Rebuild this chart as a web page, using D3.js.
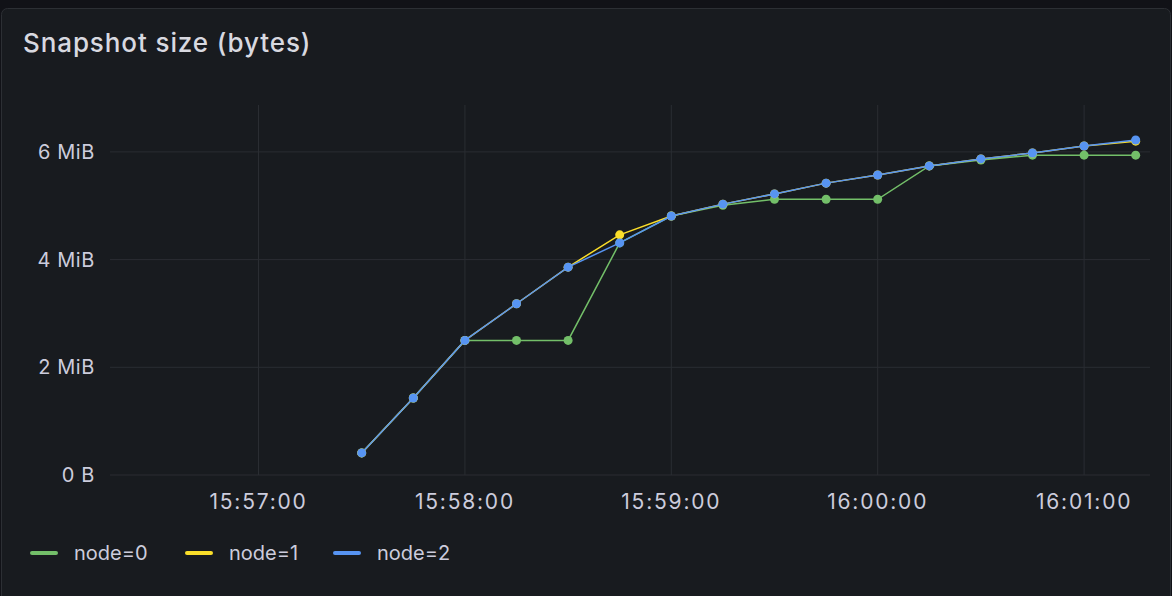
<!DOCTYPE html>
<html><head><meta charset="utf-8">
<script src="https://cdn.jsdelivr.net/npm/d3@7"></script>
<style>
body{margin:0;background:#111217;font-family:Inter,"Noto Sans",sans-serif;}
</style></head><body>
<svg id="chart" width="1172" height="596"></svg>
<script>
// sample times, 15 s apart
const times = ["15:57:30","15:57:45","15:58:00","15:58:15","15:58:30","15:58:45","15:59:00","15:59:15",
               "15:59:30","15:59:45","16:00:00","16:00:15","16:00:30","16:00:45","16:01:00","16:01:15"];
// values in MiB
const node0 = [0.41,1.43,2.5,2.5,2.5,4.31,4.81,5.01,5.12,5.12,5.12,5.74,5.85,5.94,5.94,5.94];
const node1 = [0.41,1.43,2.5,3.18,3.86,4.46,4.81,5.03,5.22,5.42,5.57,5.74,5.87,5.98,6.11,6.20];
const node2 = [0.41,1.43,2.5,3.18,3.86,4.31,4.81,5.03,5.22,5.42,5.57,5.74,5.87,5.98,6.11,6.22];
const yTicks = [0,2,4,6];
const yTickLabels = ["0 B","2 MiB","4 MiB","6 MiB"];
const xTicks = ["15:57:00","15:58:00","15:59:00","16:00:00","16:01:00"];
const series = [
    { name: "node=0", color: "#73bf69", values: node0 },
    { name: "node=1", color: "#fade2a", values: node1 },
    { name: "node=2", color: "#5794f2", values: node2 }
];

const parse = d3.timeParse( "%H:%M:%S" );
const svg   = d3.select( "#chart" );

svg.append( "rect" )
    .attr( "x", 1.5 ).attr( "y", 8.5 ).attr( "width", 1169 ).attr( "height", 600 )
    .attr( "rx", 6 ).attr( "fill", "#181b1f" ).attr( "stroke", "#2c2f34" );

svg.append( "text" ).attr( "x", 23 ).attr( "y", 52 )
    .attr( "fill", "#d8d9e0" ).attr( "font-size", 26 ).attr( "font-weight", 500 )
    .attr( "letter-spacing", 0.9 )
    .text( "Snapshot size (bytes)" );

const x = d3.scaleTime()
    .domain( [ parse( "15:56:27" ), parse( "16:01:18" ) ] )
    .range( [ 145, 1146 ] );
const y = d3.scaleLinear().domain( [ 0, 2 ] ).range( [ 475, 367.3 ] );
const yTop = 105;

// grid
svg.append( "g" ).selectAll( "line" ).data( yTicks ).join( "line" )
    .attr( "x1", 110 ).attr( "x2", 1150 )
    .attr( "y1", d => y( d ) ).attr( "y2", d => y( d ) )
    .attr( "stroke", "#2a2d32" );
svg.append( "g" ).selectAll( "line" ).data( xTicks ).join( "line" )
    .attr( "x1", d => x( parse( d ) ) ).attr( "x2", d => x( parse( d ) ) )
    .attr( "y1", yTop ).attr( "y2", 475 )
    .attr( "stroke", "#2a2d32" );

// axis labels
svg.append( "g" ).selectAll( "text" ).data( yTicks ).join( "text" )
    .attr( "x", 95 ).attr( "y", d => y( d ) + 7 ).attr( "text-anchor", "end" )
    .attr( "fill", "#ccccdc" ).attr( "font-size", 20 ).attr( "letter-spacing", 0.6 )
    .text( ( d, i ) => yTickLabels[ i ] );
svg.append( "g" ).selectAll( "text" ).data( xTicks ).join( "text" )
    .attr( "x", d => x( parse( d ) ) ).attr( "y", 509 ).attr( "text-anchor", "middle" )
    .attr( "fill", "#ccccdc" ).attr( "font-size", 21 ).attr( "letter-spacing", 1.8 )
    .text( d => d );

// lines and points
const line = d3.line().x( ( d, i ) => x( parse( times[ i ] ) ) ).y( d => y( d ) );
series.forEach( s => {
    const g = svg.append( "g" );
    g.append( "path" ).attr( "d", line( s.values ) )
        .attr( "fill", "none" ).attr( "stroke", s.color ).attr( "stroke-width", 1.5 );
    g.selectAll( "circle" ).data( s.values ).join( "circle" )
        .attr( "cx", ( d, i ) => x( parse( times[ i ] ) ) ).attr( "cy", d => y( d ) )
        .attr( "r", 4.5 ).attr( "fill", s.color );
} );

// legend
const lx = [ 30, 185, 333 ];
const leg = svg.append( "g" ).selectAll( "g" ).data( series ).join( "g" )
    .attr( "transform", ( d, i ) => `translate(${ lx[ i ] },553)` );
leg.append( "rect" ).attr( "x", 0 ).attr( "y", -2 ).attr( "width", 28 ).attr( "height", 4 )
    .attr( "rx", 2 ).attr( "fill", d => d.color );
leg.append( "text" ).attr( "x", 44 ).attr( "y", 7 ).attr( "fill", "#ccccdc" ).attr( "font-size", 20 )
    .text( d => d.name );
</script>
</body></html>
